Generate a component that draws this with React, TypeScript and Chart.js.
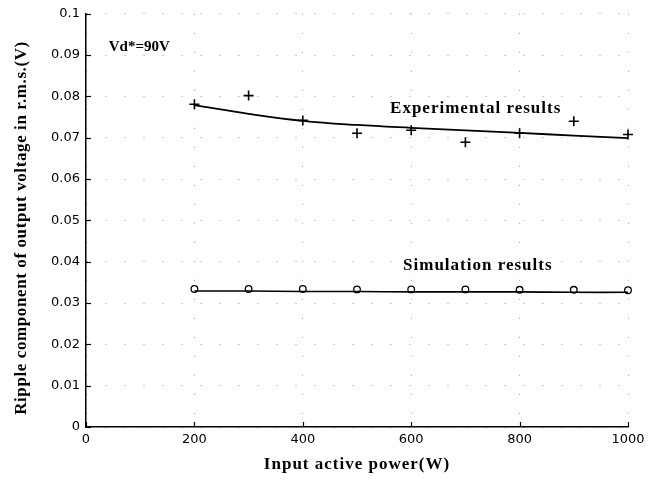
import React, { useEffect, useRef } from "react";
import { Chart, registerables } from "chart.js";

Chart.register(...registerables);

const powerLevels = [200, 300, 400, 500, 600, 700, 800, 900, 1000];
const experimental = [0.0781, 0.0802, 0.0742, 0.0711, 0.0718, 0.0689, 0.0711, 0.074, 0.0708];
const experimentalFit = [0.0779, 0.0758, 0.0741, 0.0731, 0.0724, 0.0718, 0.0712, 0.0705, 0.0699];
const simulation = [0.0334, 0.0334, 0.0334, 0.0333, 0.0333, 0.0333, 0.0332, 0.0332, 0.0331];
const simulationFit = [0.0329, 0.0329, 0.0328, 0.0328, 0.0327, 0.0327, 0.0327, 0.0326, 0.0326];
const xTicks = [0, 200, 400, 600, 800, 1000];
const yTicks = [0, 0.01, 0.02, 0.03, 0.04, 0.05, 0.06, 0.07, 0.08, 0.09, 0.1];
const labels = [
  { text: "Vd*=90V", x: 42, y: 0.092, size: 15, spacing: 0 },
  { text: "Experimental results", x: 561, y: 0.0771, size: 17, spacing: 1 },
  { text: "Simulation results", x: 585, y: 0.039, size: 17, spacing: 1 },
];
const xTitle = "Input active power(W)";
const yTitle = "Ripple component of output voltage in r.m.s.(V)";

const toXY = (ys: number[]) => ys.map((y, i) => ({ x: powerLevels[i], y }));

const annotationPlugin = {
  id: "annots",
  afterDraw(chart: any) {
    const { ctx, scales } = chart;
    const xs = scales.x;
    const ys = scales.y;
    ctx.save();
    ctx.strokeStyle = "#000";
    ctx.lineWidth = 1.2;
    for (const v of xTicks) {
      const px = Math.round(xs.getPixelForValue(v)) + 0.5;
      ctx.beginPath();
      ctx.moveTo(px, ys.bottom);
      ctx.lineTo(px, ys.bottom - 5);
      ctx.stroke();
    }
    for (const v of yTicks) {
      const py = Math.round(ys.getPixelForValue(v)) + 0.5;
      ctx.beginPath();
      ctx.moveTo(xs.left, py);
      ctx.lineTo(xs.left + 5, py);
      ctx.stroke();
    }
    ctx.fillStyle = "#000";
    ctx.textBaseline = "middle";
    ctx.textAlign = "left";
    for (const l of labels) {
      ctx.font = `bold ${l.size}px 'Liberation Serif'`;
      (ctx as any).letterSpacing = `${l.spacing}px`;
      ctx.fillText(l.text, xs.getPixelForValue(l.x), ys.getPixelForValue(l.y));
    }
    ctx.textAlign = "center";
    ctx.font = "bold 17px 'Liberation Serif'";
    (ctx as any).letterSpacing = "1px";
    ctx.fillText(xTitle, (xs.left + xs.right) / 2, 465);
    ctx.translate(22, 228);
    ctx.rotate(-Math.PI / 2);
    (ctx as any).letterSpacing = "0.6px";
    ctx.fillText(yTitle, 0, 0);
    ctx.restore();
  },
};

export default function App() {
  const ref = useRef<HTMLCanvasElement>(null);
  useEffect(() => {
    if (!ref.current) return;
    const chart = new Chart(ref.current, {
      type: "scatter",
      data: {
        datasets: [
          {
            type: "line",
            data: toXY(experimentalFit),
            borderColor: "#000",
            borderWidth: 1.8,
            pointRadius: 0,
            tension: 0.4,
            clip: false,
          },
          {
            type: "line",
            data: toXY(simulationFit),
            borderColor: "#000",
            borderWidth: 1.6,
            pointRadius: 0,
            tension: 0.4,
            clip: false,
          },
          {
            data: toXY(experimental),
            pointStyle: "cross",
            pointRadius: 5,
            borderColor: "#000",
            borderWidth: 1.6,
            clip: false,
          },
          {
            data: toXY(simulation),
            pointStyle: "circle",
            pointRadius: 3.3,
            borderColor: "#000",
            backgroundColor: "#fff",
            borderWidth: 1.3,
            clip: false,
          },
        ],
      } as any,
      options: {
        animation: false,
        responsive: false,
        layout: { padding: { top: 12, right: 37, left: 0, bottom: 0 } },
        plugins: { legend: { display: false }, tooltip: { enabled: false } },
        scales: {
          x: {
            type: "linear",
            min: 0,
            max: 1000,
            afterFit: (s: any) => {
              s.height = 59;
            },
            afterBuildTicks: (s: any) => {
              s.ticks = xTicks.map((v) => ({ value: v }));
            },
            ticks: {
              color: "#000",
              padding: 5,
              font: { family: "'DejaVu Sans'", size: 13 },
              callback: (v: any) => String(v),
            },
            grid: { drawTicks: false, color: "#999", lineWidth: 1 },
            border: { display: true, color: "#000", width: 1.5, dash: [1, 18] },
          },
          y: {
            type: "linear",
            min: 0,
            max: 0.1,
            afterFit: (s: any) => {
              s.width = 86;
            },
            afterBuildTicks: (s: any) => {
              s.ticks = yTicks.map((v) => ({ value: v }));
            },
            ticks: {
              color: "#000",
              padding: 6,
              font: { family: "'DejaVu Sans'", size: 13 },
              callback: (v: any) => String(Number(Number(v).toFixed(2))),
            },
            grid: { drawTicks: false, color: "#999", lineWidth: 1 },
            border: { display: true, color: "#000", width: 1.5, dash: [1, 18] },
          },
        },
      } as any,
      plugins: [annotationPlugin],
    });
    return () => chart.destroy();
  }, []);
  return (
    <div style={{ position: "fixed", left: 0, top: 0, width: 665, height: 486, background: "#fff" }}>
      <canvas ref={ref} width={665} height={486} />
    </div>
  );
}
